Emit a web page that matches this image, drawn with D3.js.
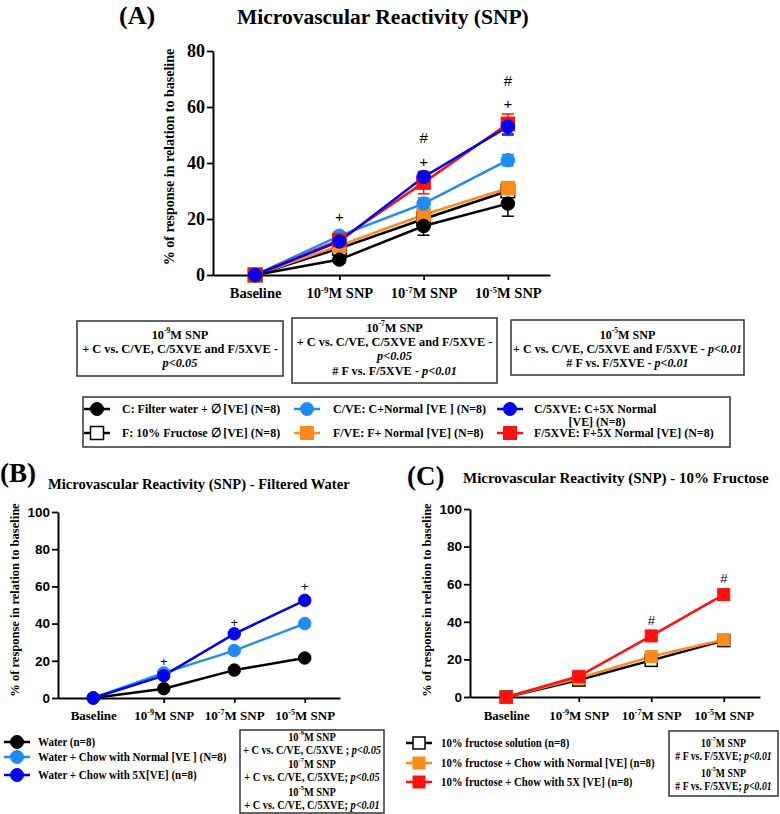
<!DOCTYPE html>
<html>
<head>
<meta charset="utf-8">
<script src="https://cdn.jsdelivr.net/npm/d3@7"></script>
<style>
body { margin: 0; background: #fff; }
text { font-family: "Liberation Serif", "Times New Roman", serif; font-weight: bold; fill: #000; }
</style>
</head>
<body>
<svg id="chart" width="780" height="814"></svg>
<script>
var categories = ["Baseline", "10^-9M SNP", "10^-7M SNP", "10^-5M SNP"];

// panel A values (mean, error)
var aC = [0, 5.5, 17.5, 25.5],      aCErr = [0, 1.2, 3.3, 4.5];
var aF = [0, 9.5, 20, 30],          aFErr = [0, 3, 1.5, 2];
var aCVE = [0, 14, 25.5, 41],       aCVEErr = [0, 1.5, 2, 2];
var aFVE = [0, 10.5, 21.5, 31],     aFVEErr = [0, 1.5, 2, 2];
var aF5X = [0, 12.5, 33, 54],       aF5XErr = [0, 1.5, 4, 3.5];
var aC5X = [0, 12, 35, 53],         aC5XErr = [0, 1, 1.5, 3];

// panel B values
var bWater = [0, 5, 15, 21.5];
var bNormal = [0, 13.5, 25.5, 40];
var b5X = [0, 12, 34.5, 52.5];

// panel C values
var cFructose = [0, 9, 19.5, 30];
var cNormal = [0, 10, 21.5, 30.5];
var c5X = [0, 11, 32.5, 54.5];

// significance marks: category index, y value, symbol
var aMarks = [[1, 21, "+"], [2, 40.7, "+"], [2, 49, "#"], [3, 61.3, "+"], [3, 69.5, "#"]];
var bMarks = [[1, 19.8, "+"], [2, 40.7, "+"], [3, 59.7, "+"]];
var cMarks = [[2, 40.6, "#"], [3, 62.8, "#"]];

var yTicksA = [0, 20, 40, 60, 80];
var yTicksBC = [0, 20, 40, 60, 80, 100];

var colBlack = "#000000", colLight = "#1e8cf5", colBlue = "#0000f0", colOrange = "#ff8a1c", colRed = "#ff1010";

var svg = d3.select("#chart");

// write "10^-9M SNP" with a superscript exponent
function supText(sel, label) {
  var m = label.match(/^(\d+)\^(-\d)(.*)$/);
  sel.text(null);
  if (!m) { sel.text(label); return; }
  sel.append("tspan").text(m[1]);
  sel.append("tspan").attr("dy", -5).attr("font-size", "0.62em").text(m[2]);
  sel.append("tspan").attr("dy", 5).text(m[3]);
}

// text line with italic p-values
function mixText(sel, label) {
  if (/\^/.test(label)) { supText(sel, label); return; }
  label.split(/(p<0\.\d+)/).forEach(function(part) {
    if (!part) return;
    var t = sel.append("tspan").text(part);
    if (/^p</.test(part)) t.attr("font-style", "italic");
  });
}

function marker(g, cx, cy, s, size) {
  if (s.shape == "circle") {
    g.append("circle").attr("cx", cx).attr("cy", cy).attr("r", size / 2)
      .attr("fill", s.fill).attr("stroke", s.color).attr("stroke-width", 1);
  } else {
    g.append("rect").attr("x", cx - size / 2).attr("y", cy - size / 2)
      .attr("width", size).attr("height", size)
      .attr("fill", s.fill).attr("stroke", s.color).attr("stroke-width", s.fill == "#fff" ? 1.5 : 1);
  }
}

function panel(p) {
  var g = svg.append("g");
  var x = d3.scalePoint().domain(categories).range([p.x0, p.x1]).padding(0.5);
  var y = d3.scaleLinear().domain([0, p.ymax]).range([p.y0, p.ytop]);

  var xa = g.append("g").attr("transform", "translate(0," + p.y0 + ")")
    .call(d3.axisBottom(x).tickSize(5).tickSizeOuter(0));
  xa.selectAll(".tick text").attr("y", p.xlabOff).attr("dy", "0.35em")
    .style("font-size", p.xFont + "px")
    .each(function(d) { supText(d3.select(this), d); });

  var ya = g.append("g").attr("transform", "translate(" + p.x0 + ",0)")
    .call(d3.axisLeft(y).tickValues(p.yticks).tickSize(6).tickPadding(2).tickSizeOuter(0));
  ya.selectAll(".tick text").style("font-size", p.yFont + "px")
    .style("font-family", p.yFamily);
  g.selectAll(".domain, .tick line").attr("stroke", "#000").attr("stroke-width", 2);
  g.selectAll(".tick line").attr("stroke-width", 1.8);

  // y label
  g.append("text").attr("transform", "translate(" + p.ylabX + "," + p.ylabY + ") rotate(-90)")
    .attr("text-anchor", "middle").attr("dominant-baseline", "central")
    .style("font-size", p.ylabFont + "px").text("% of response in relation to baseline");

  var line = d3.line().x(function(d, i) { return x(categories[i]); }).y(function(d) { return y(d); });

  p.series.forEach(function(s) {
    g.append("path").datum(s.vals).attr("d", line).attr("fill", "none")
      .attr("stroke", s.color).attr("stroke-width", p.lw);
  });
  p.series.forEach(function(s) {
    if (!s.err) return;
    s.vals.forEach(function(v, i) {
      if (!s.err[i]) return;
      var cx = x(categories[i]);
      g.append("line").attr("x1", cx).attr("x2", cx).attr("y1", y(v - s.err[i])).attr("y2", y(v + s.err[i]))
        .attr("stroke", s.color).attr("stroke-width", 1.5);
      [v - s.err[i], v + s.err[i]].forEach(function(e) {
        g.append("line").attr("x1", cx - 6).attr("x2", cx + 6).attr("y1", y(e)).attr("y2", y(e))
          .attr("stroke", s.color).attr("stroke-width", 1.5);
      });
    });
  });
  p.series.forEach(function(s) {
    s.vals.forEach(function(v, i) { marker(g, x(categories[i]), y(v), s, p.ms); });
  });

  p.marks.forEach(function(m) {
    g.append("text").attr("x", x(categories[m[0]])).attr("y", y(m[1]))
      .attr("text-anchor", "middle").attr("dominant-baseline", "central")
      .style("font-family", "'Liberation Sans', Arial, sans-serif").style("font-weight", "normal")
      .style("font-size", p.markFont + "px").text(m[2]);
  });

  g.append("text").attr("x", p.tagX).attr("y", p.tagY).style("font-size", p.tagFont + "px").text(p.tag);
  g.append("text").attr("x", p.titleX).attr("y", p.titleY).style("font-size", p.titleFont + "px").text(p.title);
}

var sC = {vals: aC, err: aCErr, color: colBlack, fill: colBlack, shape: "circle"};
var sF = {vals: aF, err: aFErr, color: colBlack, fill: "#fff", shape: "square"};
var sCVE = {vals: aCVE, err: aCVEErr, color: colLight, fill: colLight, shape: "circle"};
var sFVE = {vals: aFVE, err: aFVEErr, color: colOrange, fill: colOrange, shape: "square"};
var sF5X = {vals: aF5X, err: aF5XErr, color: colRed, fill: colRed, shape: "square"};
var sC5X = {vals: aC5X, err: aC5XErr, color: colBlue, fill: colBlue, shape: "circle"};

panel({
  x0: 213, x1: 550, y0: 275, ytop: 51, ymax: 80, yticks: yTicksA,
  xFont: 14.5, xlabOff: 18, yFont: 18, yFamily: "'Liberation Serif', serif",
  ylabX: 169, ylabY: 157, ylabFont: 14, lw: 2.5, ms: 13.5, markFont: 15,
  series: [sF, sFVE, sC, sCVE, sF5X, sC5X], marks: aMarks,
  tag: "(A)", tagX: 119, tagY: 24, tagFont: 26,
  title: "Microvascular Reactivity (SNP)", titleX: 237, titleY: 24, titleFont: 21.5
});

panel({
  x0: 58, x1: 340, y0: 698, ytop: 512, ymax: 100, yticks: yTicksBC,
  xFont: 13, xlabOff: 17, yFont: 13.5, yFamily: "'Liberation Sans', Arial, sans-serif",
  ylabX: 15, ylabY: 600, ylabFont: 12.5, lw: 2.5, ms: 12.5, markFont: 13,
  series: [
    {vals: bWater, color: colBlack, fill: colBlack, shape: "circle"},
    {vals: bNormal, color: colLight, fill: colLight, shape: "circle"},
    {vals: b5X, color: colBlue, fill: colBlue, shape: "circle"}
  ], marks: bMarks,
  tag: "(B)", tagX: 0, tagY: 482, tagFont: 27,
  title: "Microvascular Reactivity (SNP) - Filtered Water", titleX: 48, titleY: 489, titleFont: 14.6
});

panel({
  x0: 470, x1: 760, y0: 697, ytop: 509, ymax: 100, yticks: yTicksBC,
  xFont: 13, xlabOff: 18, yFont: 13.5, yFamily: "'Liberation Sans', Arial, sans-serif",
  ylabX: 427, ylabY: 600, ylabFont: 12.5, lw: 2.5, ms: 12, markFont: 13,
  series: [
    {vals: cFructose, color: colBlack, fill: "#fff", shape: "square"},
    {vals: cNormal, color: colOrange, fill: colOrange, shape: "square"},
    {vals: c5X, color: colRed, fill: colRed, shape: "square"}
  ], marks: cMarks,
  tag: "(C)", tagX: 407, tagY: 485, tagFont: 27,
  title: "Microvascular Reactivity (SNP) - 10% Fructose", titleX: 463, titleY: 483, titleFont: 15
});

// boxed statistics notes (text squeezed horizontally like the original's condensed face)
function noteBox(x0, y0, x1, y1, lines, ys, size, sq) {
  svg.append("rect").attr("x", x0).attr("y", y0).attr("width", x1 - x0).attr("height", y1 - y0)
    .attr("fill", "#fff").attr("stroke", "#333").attr("stroke-width", 1.5);
  lines.forEach(function(l, i) {
    var t = svg.append("text")
      .attr("transform", "translate(" + ((x0 + x1) / 2) + "," + ys[i] + ") scale(" + sq + ",1)")
      .attr("text-anchor", "middle").attr("dominant-baseline", "central")
      .style("font-size", size + "px");
    mixText(t, l);
  });
}

noteBox(77, 321, 283, 376, ["10^-9M SNP", "+ C  vs.  C/VE, C/5XVE and  F/5XVE -", "p<0.05"], [335, 349, 363], 13, 0.95);
noteBox(292, 318, 497, 383, ["10^-7M SNP", "+ C  vs.  C/VE, C/5XVE and  F/5XVE -", "p<0.05", "# F  vs.  F/5XVE  -  p<0.01"], [328, 342, 356, 371], 13, 0.95);
noteBox(511, 320, 744, 375, ["10^-5M SNP", "+ C  vs.  C/VE, C/5XVE and  F/5XVE - p<0.01", "# F  vs.  F/5XVE - p<0.01"], [335, 349, 363], 13, 0.93);

noteBox(240, 730, 384, 813, ["10^-9M SNP", "+ C vs. C/VE, C/5XVE ;  p<0.05", "10^-7M SNP", "+ C vs. C/VE, C/5XVE;  p<0.05", "10^-5M SNP", "+ C vs. C/VE, C/5XVE;  p<0.01"],
  [737, 750, 764, 777, 792, 805], 11.5, 0.9);
noteBox(669, 731, 778, 796, ["10^-7M SNP", "# F vs. F/5XVE;  p<0.01", "10^-5M SNP", "# F vs. F/5XVE;  p<0.01"], [743, 756, 773, 786], 11.5, 0.85);

// legends
function legendItem(cx, cy, s, size, label, tx, fs, sq) {
  svg.append("line").attr("x1", cx - 13).attr("x2", cx + 13).attr("y1", cy).attr("y2", cy)
    .attr("stroke", s.color).attr("stroke-width", 2.5);
  marker(svg, cx, cy, s, size);
  svg.append("text").attr("transform", "translate(" + tx + "," + cy + ") scale(" + sq + ",1)")
    .attr("dominant-baseline", "central")
    .style("font-size", fs + "px").text(label);
}

var aLabels = ["C: Filter water + \u2205 [VE] (N=8)", "C/VE: C+Normal [VE ] (N=8)", "C/5XVE: C+5X Normal",
               "F: 10% Fructose \u2205 [VE] (N=8)", "F/VE: F+ Normal [VE] (N=8)", "F/5XVE: F+5X Normal [VE] (N=8)"];
var bLabels = ["Water (n=8)", "Water + Chow with Normal [VE ] (N=8)", "Water + Chow with 5X[VE] (n=8)"];
var cLabels = ["10% fructose solution (n=8)", "10% fructose + Chow with Normal [VE] (n=8)", "10% fructose + Chow with 5X [VE] (n=8)"];

svg.append("rect").attr("x", 83).attr("y", 397).attr("width", 647).attr("height", 50)
  .attr("fill", "#fff").attr("stroke", "#333").attr("stroke-width", 1.5);
var aLegSeries = [sC, sCVE, sC5X, sF, sFVE, sF5X];
var legCols = [[97, 122], [307, 333], [510, 534]];
aLegSeries.forEach(function(s, i) {
  var c = legCols[i % 3];
  legendItem(c[0], i < 3 ? 409 : 433, s, 13, aLabels[i], c[1], 13, 0.92);
});
// wrapped tail of the C/5XVE label, as in the original
svg.append("text").attr("transform", "translate(597,422) scale(0.92,1)").attr("text-anchor", "middle")
  .attr("dominant-baseline", "central").style("font-size", "13px").text("[VE] (N=8)");

[{color: colBlack, fill: colBlack, shape: "circle"}, {color: colLight, fill: colLight, shape: "circle"}, {color: colBlue, fill: colBlue, shape: "circle"}]
  .forEach(function(s, i) { legendItem(17, [742, 757, 775][i], s, 13, bLabels[i], 38, 12.5, 0.88); });
[{color: colBlack, fill: "#fff", shape: "square"}, {color: colOrange, fill: colOrange, shape: "square"}, {color: colRed, fill: colRed, shape: "square"}]
  .forEach(function(s, i) { legendItem(419, [743, 763, 782][i], s, 12, cLabels[i], 441, 12.5, 0.865); });
</script>
</body>
</html>
